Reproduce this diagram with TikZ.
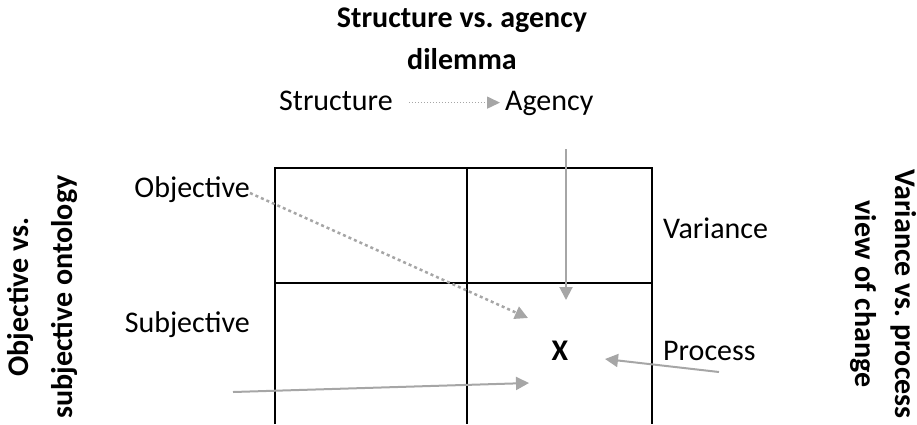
\documentclass[tikz,border=0pt]{standalone}
\usepackage{fontspec}
\setmainfont{Carlito}
\usetikzlibrary{arrows.meta}
\definecolor{arrgray}{RGB}{166,166,166}
\frenchspacing
\begin{document}
\begin{tikzpicture}[x=1pt,y=-1pt,
  txt/.style={inner sep=0pt, font=\fontsize{30}{36}\selectfont},
  btxt/.style={inner sep=0pt, font=\fontsize{30}{36}\selectfont\bfseries},
  gridline/.style={black, line width=2pt},
  garrow/.style={arrgray, line width=2pt, -{Triangle[length=13pt,width=13pt]}},
  gdot/.style={garrow, line width=2.5pt, dash pattern=on 3pt off 3pt},
]
\useasboundingbox (0,0) rectangle (917,424);
\clip (0,0) rectangle (917,424);

% title
\node[btxt, anchor=base] (t1) at (462,27) {Structure vs.\ agency};
\node[btxt, anchor=base] (t2) at (462,69) {dilemma};
\node[txt, anchor=base west] (struct) at (279,110) {Structure};
\node[txt, anchor=base west] (agency) at (505,110) {Agency};
\draw[arrgray, line width=1.5pt, dash pattern=on 1.5pt off 1.5pt,
      -{Triangle[length=13pt,width=12pt]}, shorten <=16pt, shorten >=5pt]
  ([yshift=5pt]struct.mid east) -- ([yshift=5pt]agency.mid west);

% grid
\draw[gridline] (275,424) -- (275,168) -- (652,168) -- (652,424);
\draw[gridline] (467,168) -- (467,424);
\draw[gridline] (275,283) -- (652,283);

% labels
\node[txt, anchor=base east] (obj) at (250,197) {Objective};
\node[txt, anchor=base east] (subj) at (250,332) {Subjective};
\node[txt, anchor=base west] (var) at (663,238) {Variance};
\node[txt, anchor=base west] (proc) at (663,360) {Process};
\node[btxt, anchor=base] (x) at (560,360) {X};

% side titles
\node[btxt, rotate=90, anchor=base] (l1) at (28,297) {Objective vs.};
\node[btxt, rotate=90, anchor=base] (l2) at (72,297) {subjective ontology};
\node[btxt, rotate=-90, anchor=base] (r1) at (895,294) {Variance vs.\ process};
\node[btxt, rotate=-90, anchor=base] (r2) at (855,294) {view of change};

% arrows
\coordinate (vtop) at (566,149);
\coordinate (vtip) at (566,300);
\coordinate (otip) at (528,318);
\coordinate (ptail) at (719,372);
\coordinate (ptip) at (605,359);
\coordinate (btail) at (233,392);
\coordinate (btip) at (529,383);

\draw[garrow] (vtop) -- (vtip);
\draw[gdot] ([yshift=4pt]obj.base east) -- (otip);
\draw[garrow] (ptail) -- (ptip);
\draw[garrow] (btail) -- (btip);
\end{tikzpicture}
\end{document}
